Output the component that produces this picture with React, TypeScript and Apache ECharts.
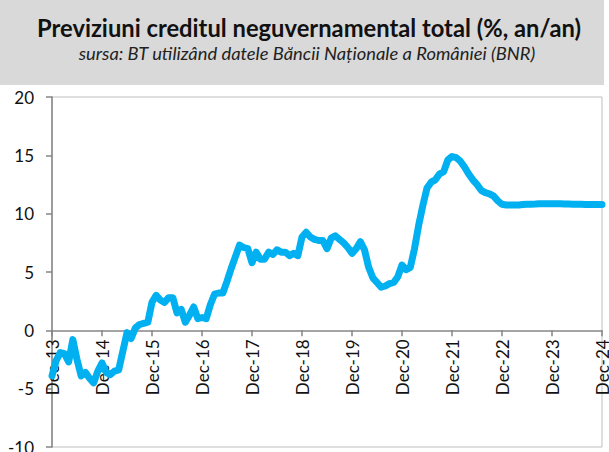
import React, { useEffect, useRef } from "react";
import * as echarts from "echarts";

const TITLE = "Previziuni creditul neguvernamental total (%, an/an)";
const SUBTITLE = "sursa: BT utilizând datele Băncii Naționale a României (BNR)";

const MONTHS = ["Jan", "Feb", "Mar", "Apr", "May", "Jun", "Jul", "Aug", "Sep", "Oct", "Nov", "Dec"];
const YEARS = ["13", "14", "15", "16", "17", "18", "19", "20", "21", "22", "23", "24"];

const Y_MIN = -10;
const Y_MAX = 20;
const Y_STEP = 5;

// monthly, Dec-13 .. Dec-24
const creditGrowth = [
  -3.9, -2.6, -1.9, -2.0, -2.7, -0.8, -2.5, -3.9, -3.6, -4.1, -4.5, -3.5,
  -2.8, -3.6, -3.8, -3.5, -3.4, -1.8, -0.2, -0.7, 0.2, 0.5, 0.6, 0.7,
  2.4, 3.0, 2.6, 2.4, 2.8, 2.8, 1.5, 1.8, 0.7, 1.3, 2.0, 1.0,
  1.1, 1.0, 2.2, 3.1, 3.2, 3.2, 4.2, 5.3, 6.3, 7.3, 7.1, 7.0,
  5.8, 6.7, 6.1, 6.1, 6.7, 6.5, 6.9, 6.7, 6.7, 6.4, 6.6, 6.4,
  8.0, 8.4, 8.0, 7.8, 7.7, 7.7, 7.0, 7.9, 8.1, 7.8, 7.5, 7.1,
  6.6, 7.0, 7.6, 6.9, 5.4, 4.5, 4.1, 3.7, 3.8, 4.0, 4.1, 4.6,
  5.6, 5.2, 5.4, 7.0, 9.0, 10.7, 12.2, 12.7, 12.9, 13.4, 13.6, 14.6,
  14.9, 14.8, 14.5, 14.0, 13.4, 12.9, 12.5, 12.0, 11.8, 11.7, 11.5, 11.1,
  10.8, 10.75, 10.75, 10.75, 10.75, 10.78, 10.8, 10.8, 10.82, 10.85, 10.85, 10.85,
  10.85, 10.85, 10.85, 10.82, 10.82, 10.8, 10.8, 10.8, 10.78, 10.78, 10.78, 10.78,
  10.78,
];

const categories: string[] = ["Dec-13"];
for (let y = 1; y < YEARS.length; y++) {
  for (let m = 0; m < 12; m++) categories.push(MONTHS[m] + "-" + YEARS[y]);
}

const GRID_TOP = 97;
const GRID_BOTTOM = 5;
const PLOT_H = 452 - GRID_TOP - GRID_BOTTOM;

export default function App() {
  const ref = useRef<HTMLDivElement>(null);
  useEffect(() => {
    document.body.style.margin = "0";
    const chart = echarts.init(ref.current!, null, { renderer: "svg" });
    // x axis sits at value 0: offset it upward from the grid bottom
    const zeroOffset = -PLOT_H * (0 - Y_MIN) / (Y_MAX - Y_MIN);
    chart.setOption({
      animation: false,
      backgroundColor: "#ffffff",
      textStyle: { fontFamily: "Lato, 'Open Sans', sans-serif" },
      graphic: [
        { type: "rect", left: 0, top: 0, shape: { width: 604, height: 85 }, style: { fill: "#d9d9d9" }, z: -1 },
        {
          type: "text", x: 309, y: 27, scaleX: 0.95,
          style: {
            text: TITLE, fill: "#111111", align: "center", verticalAlign: "middle",
            font: "bold 25px Lato, sans-serif",
          },
        },
        {
          type: "text", x: 307, y: 53, scaleX: 1.02,
          style: {
            text: SUBTITLE, fill: "#222222", align: "center", verticalAlign: "middle",
            font: "italic 18px Lato, sans-serif",
          },
        },
      ],
      grid: {
        left: 52, right: 7, top: GRID_TOP, bottom: GRID_BOTTOM,
        outerBoundsMode: "none", containLabel: false,
        show: true, borderColor: "#bfbfbf", borderWidth: 1,
      },
      xAxis: {
        type: "category",
        data: categories,
        boundaryGap: false,
        position: "bottom",
        offset: zeroOffset,
        axisLine: { onZero: false, lineStyle: { color: "#868686", width: 1.5 } },
        axisTick: { interval: 11, length: 6, lineStyle: { color: "#868686", width: 1.5 } },
        axisLabel: { interval: 11, rotate: 90, fontSize: 17, color: "#111111", margin: 9, fontFamily: "Lato" },
        splitLine: { show: false },
      },
      yAxis: {
        type: "value",
        min: Y_MIN, max: Y_MAX, interval: Y_STEP,
        axisLine: { show: true, lineStyle: { color: "#868686", width: 1.5 } },
        axisTick: { show: true, length: 6, lineStyle: { color: "#868686", width: 1.5 } },
        axisLabel: { fontSize: 17, color: "#111111", margin: 18, fontFamily: "Lato" },
        splitLine: { show: false },
      },
      series: [
        {
          type: "line",
          data: creditGrowth,
          symbol: "none",
          lineStyle: { color: "#00b0f0", width: 7, cap: "round", join: "round" },
          z: 3,
        },
      ],
    });
    return () => chart.dispose();
  }, []);
  return <div ref={ref} style={{ position: "fixed", left: 0, top: 0, width: 609, height: 452 }} />;
}
